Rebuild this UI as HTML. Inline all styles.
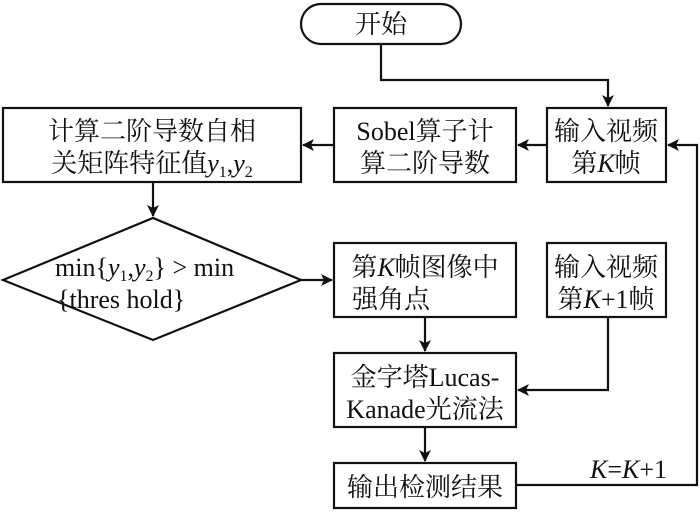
<!DOCTYPE html>
<html><head><meta charset="utf-8"><style>
body{margin:0;background:#fff}
svg text{font-family:"Liberation Serif","Noto Serif CJK SC","Noto Sans CJK SC",serif;font-size:26px;fill:#111}
</style></head><body>
<svg width="700" height="510" viewBox="0 0 700 510" xmlns="http://www.w3.org/2000/svg">
<defs><marker id="a" markerWidth="12" markerHeight="12" refX="11" refY="6" orient="auto" markerUnits="userSpaceOnUse"><path d="M0,0 L12,6 L0,12 L3,6 Z" fill="#111"/></marker></defs>
<g fill="none" stroke="#111" stroke-width="2.2">
<rect x="301" y="4" width="160" height="40" rx="20"/>
<rect x="3" y="108" width="298" height="74"/>
<rect x="334" y="108" width="182" height="74"/>
<rect x="547" y="108" width="119" height="74"/>
<polygon points="3,280 153,218 301,280 153,340"/>
<rect x="334" y="243" width="182" height="74"/>
<rect x="547" y="243" width="119" height="74"/>
<rect x="334" y="353" width="182" height="74"/>
<rect x="334" y="463" width="182" height="45"/>
<polyline points="381,44 381,80 608,80 608,106" marker-end="url(#a)"/>
<line x1="547" y1="145" x2="518" y2="145" marker-end="url(#a)"/>
<line x1="334" y1="145" x2="303" y2="145" marker-end="url(#a)"/>
<line x1="153" y1="182" x2="153" y2="216" marker-end="url(#a)"/>
<line x1="301" y1="280" x2="332" y2="280" marker-end="url(#a)"/>
<line x1="425" y1="317" x2="425" y2="351" marker-end="url(#a)"/>
<polyline points="608,317 608,390 518,390" marker-end="url(#a)"/>
<line x1="425" y1="427" x2="425" y2="461" marker-end="url(#a)"/>
<polyline points="516,485 697,485 697,145 668,145" marker-end="url(#a)"/>
</g>
<text x="152" y="33" text-anchor="middle" font-size="26"><tspan x="381">开始</tspan></text>
<text x="152" y="140" text-anchor="middle">计算二阶导数自相</text>
<text x="152" y="172" text-anchor="middle">关矩阵特征值<tspan font-style="italic">y</tspan><tspan font-size="16" dy="5">1</tspan><tspan dy="-5">,</tspan><tspan font-style="italic">y</tspan><tspan font-size="16" dy="5">2</tspan></text>
<text x="425" y="140" text-anchor="middle">Sobel算子计</text>
<text x="425" y="172" text-anchor="middle">算二阶导数</text>
<text x="606" y="140" text-anchor="middle">输入视频</text>
<text x="606" y="172" text-anchor="middle">第<tspan font-style="italic">K</tspan>帧</text>
<text x="55" y="276">min{<tspan font-style="italic">y</tspan><tspan font-size="16" dy="5">1</tspan><tspan dy="-5">,</tspan><tspan font-style="italic">y</tspan><tspan font-size="16" dy="5">2</tspan><tspan dy="-5">} &gt; min</tspan></text>
<text x="57" y="308">{thres hold}</text>
<text x="425" y="276" text-anchor="middle">第<tspan font-style="italic">K</tspan>帧图像中</text>
<text x="352" y="308">强角点</text>
<text x="606" y="276" text-anchor="middle">输入视频</text>
<text x="606" y="308" text-anchor="middle">第<tspan font-style="italic">K</tspan>+1帧</text>
<text x="425" y="386" text-anchor="middle">金字塔Lucas-</text>
<text x="425" y="418" text-anchor="middle">Kanade光流法</text>
<text x="425" y="496" text-anchor="middle">输出检测结果</text>
<text x="590" y="478"><tspan font-style="italic">K</tspan>=<tspan font-style="italic">K</tspan>+1</text>
</svg>
</body></html>
